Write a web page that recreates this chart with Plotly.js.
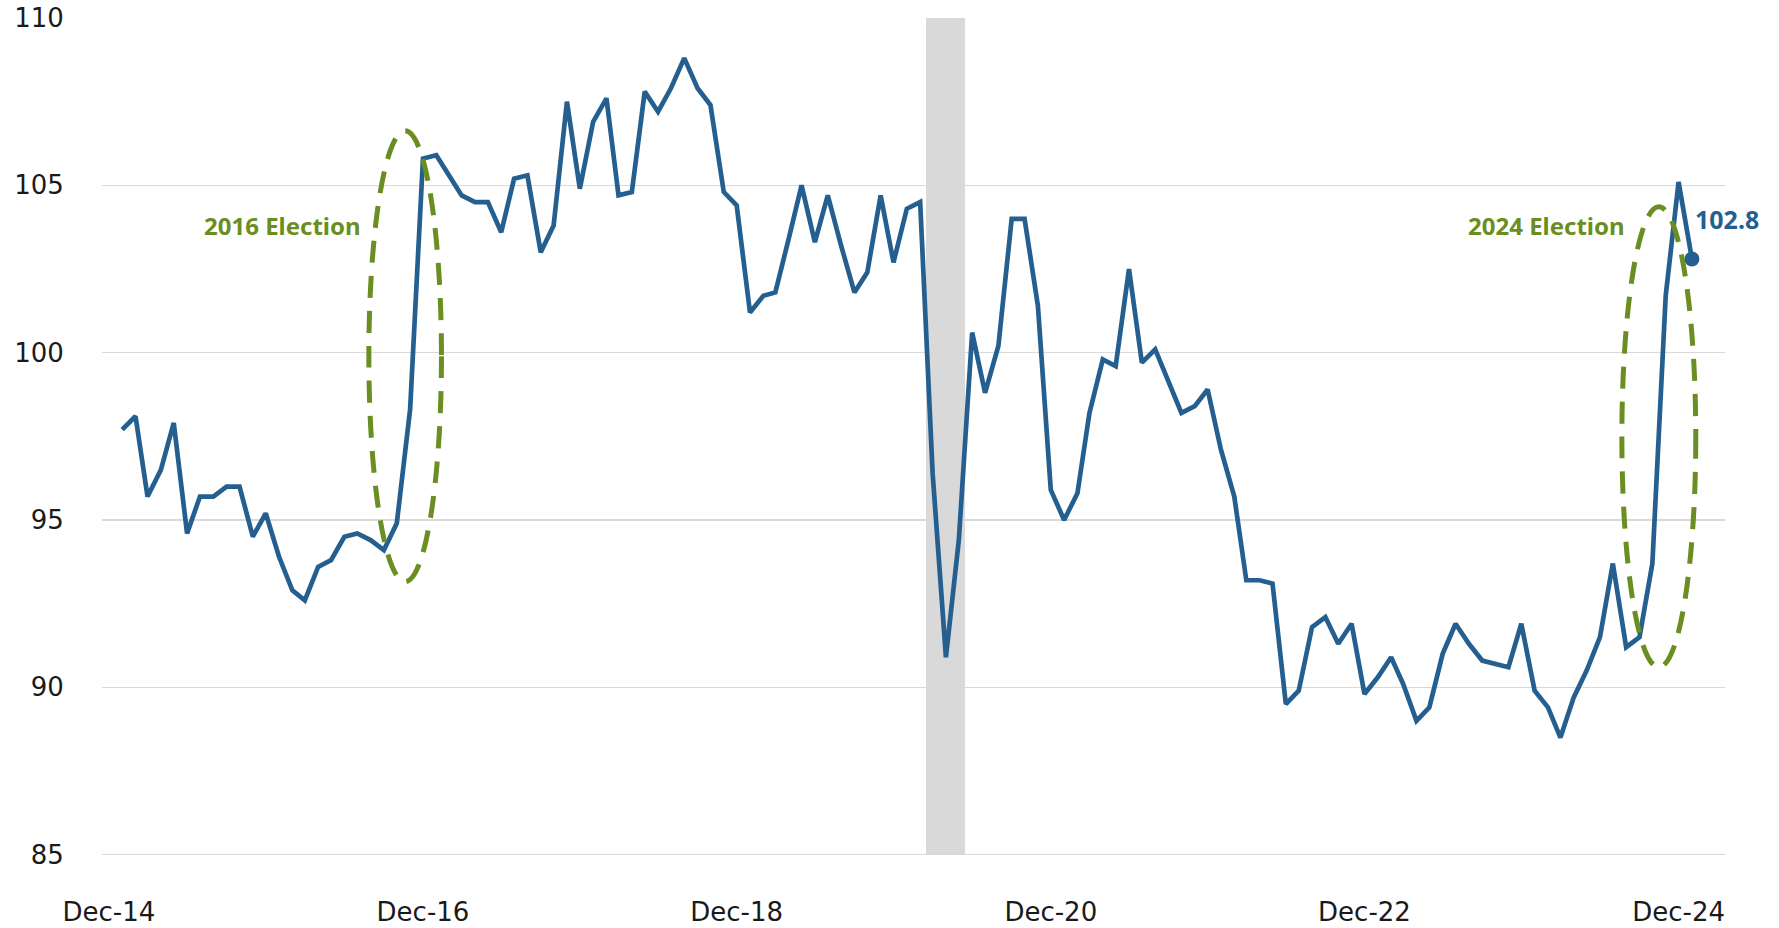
<!DOCTYPE html>
<html>
<head>
<meta charset="utf-8">
<script src="https://cdn.plot.ly/plotly-3.0.1.min.js"></script>
<style>
  html, body { margin: 0; padding: 0; background: #ffffff; }
  #chart { width: 1779px; height: 928px; }
</style>
</head>
<body>
<div id="chart"></div>
<script>
// ---- Data (monthly index, Jan-2015 .. Jan-2025) ----
const startYear = 2015;
const v2015 = [97.7, 98.1, 95.7, 96.5, 97.9, 94.6, 95.7, 95.7, 96.0, 96.0, 94.5, 95.2];
const v2016 = [93.9, 92.9, 92.6, 93.6, 93.8, 94.5, 94.6, 94.4, 94.1, 94.9, 98.3, 105.8];
const v2017 = [105.9, 105.3, 104.7, 104.5, 104.5, 103.6, 105.2, 105.3, 103.0, 103.8, 107.5, 104.9];
const v2018 = [106.9, 107.6, 104.7, 104.8, 107.8, 107.2, 107.9, 108.8, 107.9, 107.4, 104.8, 104.4];
const v2019 = [101.2, 101.7, 101.8, 103.4, 105.0, 103.3, 104.7, 103.2, 101.8, 102.4, 104.7, 102.7];
const v2020 = [104.3, 104.5, 96.4, 90.9, 94.4, 100.6, 98.8, 100.2, 104.0, 104.0, 101.4, 95.9];
const v2021 = [95.0, 95.8, 98.2, 99.8, 99.6, 102.5, 99.7, 100.1, 99.1, 98.2, 98.4, 98.9];
const v2022 = [97.1, 95.7, 93.2, 93.2, 93.1, 89.5, 89.9, 91.8, 92.1, 91.3, 91.9, 89.8];
const v2023 = [90.3, 90.9, 90.1, 89.0, 89.4, 91.0, 91.9, 91.3, 90.8, 90.7, 90.6, 91.9];
const v2024 = [89.9, 89.4, 88.5, 89.7, 90.5, 91.5, 93.7, 91.2, 91.5, 93.7, 101.7, 105.1];
const v2025 = [102.8];

const recessionMonths = ['2020-03-01', '2020-04-01', '2020-05-01'];

const tickDates  = ['2014-12-01', '2016-12-01', '2018-12-01', '2020-12-01', '2022-12-01', '2024-12-01'];
const tickLabels = ['Dec-14', 'Dec-16', 'Dec-18', 'Dec-20', 'Dec-22', 'Dec-24'];
const yTicks = [85, 90, 95, 100, 105, 110];

const elections = [
  { label: '2016 Election', x0: '2016-07-28', x1: '2017-01-13', y0: 93.16, y1: 106.63, textX: '2016-07-14', textY: 103.8 },
  { label: '2024 Election', x0: '2024-07-22', x1: '2025-01-10', y0: 90.6,  y1: 104.36, textX: '2024-08-03', textY: 103.8 }
];

// ---- Build series ----
const yearly = [v2015, v2016, v2017, v2018, v2019, v2020, v2021, v2022, v2023, v2024, v2025];
const dates = [];
const values = [];
yearly.forEach((arr, yi) => {
  arr.forEach((v, mi) => {
    const m = String(mi + 1).padStart(2, '0');
    dates.push((startYear + yi) + '-' + m + '-01');
    values.push(v);
  });
});

const BLUE = '#245f90';
const GREEN = '#6a8e22';
const MONTH_MS = 30.44 * 24 * 3600 * 1000;

const recessionTrace = {
  type: 'bar',
  x: recessionMonths,
  y: recessionMonths.map(() => 25),
  base: recessionMonths.map(() => 85),
  width: recessionMonths.map(() => MONTH_MS),
  marker: { color: '#d9d9d9', line: { width: 0 } },
  hoverinfo: 'skip'
};

const lineTrace = {
  type: 'scatter',
  mode: 'lines',
  x: dates,
  y: values,
  line: { color: BLUE, width: 4.7 },
  hoverinfo: 'x+y'
};

const lastTrace = {
  type: 'scatter',
  mode: 'markers',
  x: [dates[dates.length - 1]],
  y: [values[values.length - 1]],
  marker: { color: BLUE, size: 15 },
  hoverinfo: 'skip'
};

const shapes = elections.map(e => ({
  type: 'circle',
  xref: 'x', yref: 'y',
  x0: e.x0, x1: e.x1, y0: e.y0, y1: e.y1,
  line: { color: GREEN, width: 5, dash: '22px,13px' },
  layer: 'above'
}));

const annotations = elections.map(e => ({
  x: e.textX, y: e.textY, xref: 'x', yref: 'y',
  text: e.label, showarrow: false,
  xanchor: 'right', yanchor: 'middle',
  font: { family: 'Noto Sans', size: 24, color: GREEN, weight: 'bold' }
}));

annotations.push({
  x: dates[dates.length - 1], y: values[values.length - 1], xref: 'x', yref: 'y',
  text: values[values.length - 1].toFixed(1), showarrow: false,
  xanchor: 'left', yanchor: 'middle', xshift: 1, yshift: 40,
  font: { family: 'Noto Sans', size: 25, color: BLUE, weight: 'bold' }
});

const layout = {
  width: 1779,
  height: 928,
  margin: { l: 102, r: 54, t: 17, b: 72, pad: 0 },
  paper_bgcolor: '#ffffff',
  plot_bgcolor: '#ffffff',
  showlegend: false,
  bargap: 0,
  xaxis: {
    type: 'date',
    range: ['2014-11-15', '2025-03-19'],
    tickmode: 'array',
    tickvals: tickDates,
    ticktext: tickLabels,
    showgrid: false,
    zeroline: false,
    showline: false,
    ticks: 'outside',
    ticklen: 33,
    tickcolor: 'rgba(0,0,0,0)',
    automargin: false,
    tickfont: { family: 'DejaVu Sans', size: 26, color: '#1a1a1a' }
  },
  yaxis: {
    range: [84.96, 110.03],
    tickmode: 'array',
    tickvals: yTicks,
    ticktext: yTicks.map(String),
    showgrid: true,
    gridcolor: '#d9d9d9',
    gridwidth: 1.6,
    zeroline: false,
    showline: false,
    ticks: 'outside',
    ticklen: 32,
    tickcolor: 'rgba(0,0,0,0)',
    automargin: false,
    tickfont: { family: 'DejaVu Sans', size: 26, color: '#1a1a1a' }
  },
  shapes: shapes,
  annotations: annotations
};

Plotly.newPlot('chart', [recessionTrace, lineTrace, lastTrace], layout, { displayModeBar: false, staticPlot: true });
</script>
</body>
</html>
